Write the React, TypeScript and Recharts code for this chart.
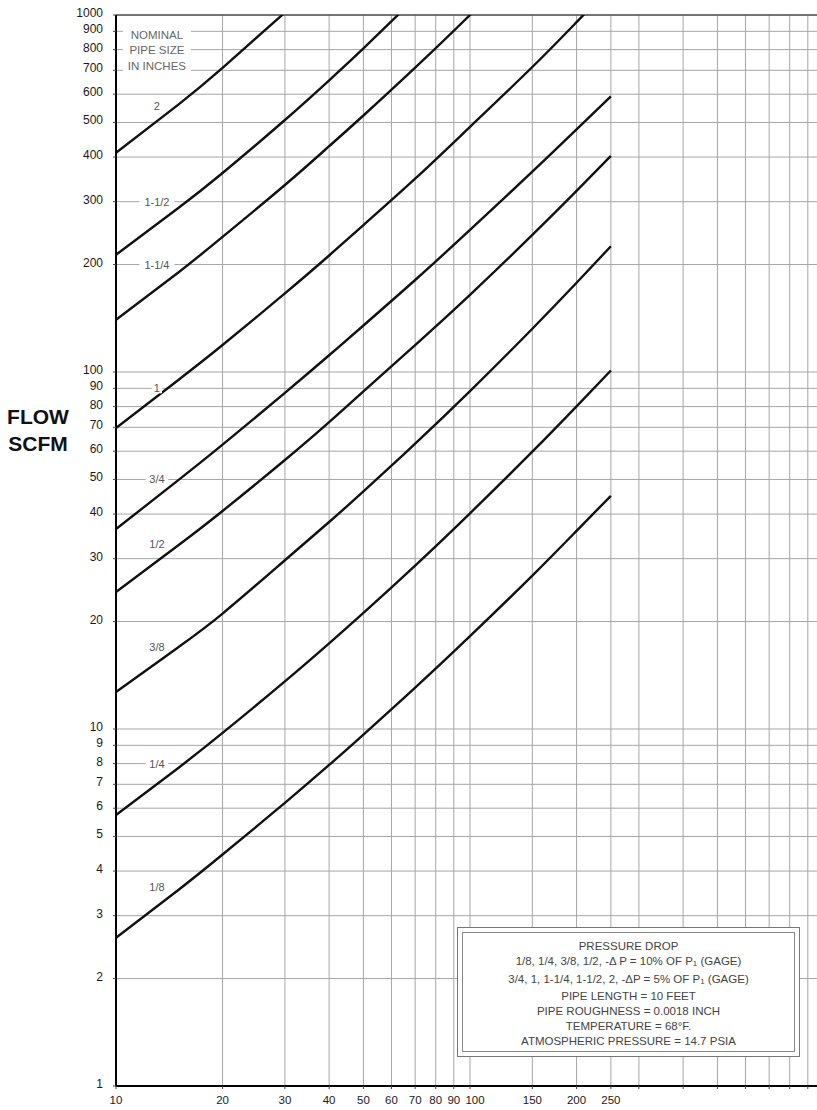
import React from "react";
import {
  LineChart,
  Line,
  XAxis,
  YAxis,
  CartesianGrid,
  ReferenceLine,
  ReferenceDot,
} from "recharts";

const FONT = "'Liberation Sans', Arial, Helvetica, sans-serif";

// pressure (psig) at which each flow value was read
const pressure = [10, 15, 20, 30, 40, 50, 70, 100, 150, 200, 250];

// flow in SCFM per nominal pipe size
const pipe1_8 = [2.6, 3.54, 4.45, 6.21, 7.93, 9.65, 13.06, 18.2, 26.9, 35.9, 45];
const pipe1_4 = [5.74, 7.78, 9.75, 13.6, 17.38, 21.15, 28.7, 40.2, 59.8, 80.1, 101];
const pipe3_8 = [12.7, 16.95, 21.05, 29.7, 38, 46.3, 63, 88.4, 132.2, 177.8, 225];
const pipe1_2 = [24.2, 32.7, 40.8, 56.7, 72.4, 88.3, 119, 164.5, 242, 321.5, 403];
const pipe3_4 = [36.3, 49.8, 62.6, 87.4, 111.4, 135, 181, 250, 364, 478, 592];
const pipe1 = [69.7, 95, 119, 166, 212, 258, 348, 486, 715, 955, 1200];
const pipe1_1_4 = [140, 190, 239, 334, 429, 523, 712, 1000, 1500];
const pipe1_1_2 = [213, 288, 361, 508, 656, 806, 1114];
const pipe2 = [411, 561, 711, 1016];

const sizeNames = ["1/8", "1/4", "3/8", "1/2", "3/4", "1", "1-1/4", "1-1/2", "2"];
const sizeFlows = [pipe1_8, pipe1_4, pipe3_8, pipe1_2, pipe3_4, pipe1, pipe1_1_4, pipe1_1_2, pipe2];
// where the size tag sits (flow value) next to each curve
const tagFlow = [3.6, 8, 17, 33, 50, 90, 200, 300, 555];
const tagPressure = 13.05;

const xTicks = [10, 20, 30, 40, 50, 60, 70, 80, 90, 100, 150, 200, 250, 300, 400, 500, 600, 700, 800, 900, 1000];
const xLabelMax = 250;
const yTicks = [
  1, 2, 3, 4, 5, 6, 7, 8, 9, 10, 20, 30, 40, 50, 60, 70, 80, 90, 100,
  200, 300, 400, 500, 600, 700, 800, 900, 1000,
];

const headerLines = ["NOMINAL", "PIPE SIZE", "IN INCHES"];

const series = sizeFlows.map((flows, i) => ({
  name: sizeNames[i],
  points: flows.map((f, j) => ({ x: pressure[j], y: f })),
}));

const YTick = ({ x, y, payload }: any) => (
  <text x={x} y={y} dy={2} textAnchor="end" fontSize={12} fill="#1a1a1a" fontFamily={FONT}>
    {payload.value}
  </text>
);

const XTick = ({ x, y, payload }: any) =>
  payload.value > xLabelMax ? null : (
    <text
      x={x}
      y={y}
      dx={payload.value === 100 ? 5 : 0}
      dy="0.71em"
      textAnchor="middle"
      fontSize={11.5}
      fill="#1a1a1a"
      fontFamily={FONT}
    >
      {payload.value}
    </text>
  );

const SizeTag = ({ cx, cy, text }: any) => {
  const w = text.length * 6.2 + 4;
  return (
    <g>
      <rect x={cx - w / 2} y={cy - 5} width={w} height={10} fill="#fff" />
      <text x={cx} y={cy} dy={4} textAnchor="middle" fontSize={11} fill="#555" fontFamily={FONT}>
        {text}
      </text>
    </g>
  );
};

const Header = ({ cx, cy }: any) => (
  <g>
    {headerLines.map((t, i) => (
      <g key={t}>
        <rect x={cx - 34} y={cy - 20 + i * 15.5} width={68} height={11} fill="#fff" />
        <text x={cx} y={cy - 15 + i * 15.5} dy={4} textAnchor="middle" fontSize={11.5} fill="#666" fontFamily={FONT}>
          {t}
        </text>
      </g>
    ))}
  </g>
);

const P1 = () => (
  <>
    P<span style={{ fontSize: 8, verticalAlign: "-1px" }}>1</span>
  </>
);

export default function App() {
  return (
    <div
      style={{
        position: "absolute",
        left: 0,
        top: 0,
        width: 817,
        height: 1110,
        overflow: "hidden",
        background: "#fff",
      }}
    >
      <LineChart width={850} height={1110} margin={{ top: 15, right: 26, left: 60, bottom: 0 }}>
        <CartesianGrid stroke="#a6a6a6" strokeWidth={1} />
        <XAxis
          type="number"
          dataKey="x"
          scale="log"
          domain={[10, 1000]}
          allowDataOverflow
          ticks={xTicks}
          interval={0}
          height={24}
          tickSize={3}
          tickMargin={7}
          tick={<XTick />}
          axisLine={{ stroke: "#000", strokeWidth: 2 }}
          tickLine={{ stroke: "#444" }}
        />
        <YAxis
          type="number"
          dataKey="y"
          scale="log"
          domain={[1, 1000]}
          allowDataOverflow
          ticks={yTicks}
          interval={0}
          width={56}
          tickSize={3}
          tickMargin={10}
          tick={<YTick />}
          axisLine={{ stroke: "#000", strokeWidth: 2 }}
          tickLine={{ stroke: "#444" }}
        />
        <ReferenceLine y={1000} stroke="#555" strokeWidth={1.5} />
        <ReferenceDot x={tagPressure} y={800} r={0} shape={(p: any) => <Header cx={p.cx} cy={p.cy} />} />
        {series.map((s, i) => (
          <ReferenceDot
            key={"tag" + s.name}
            x={tagPressure}
            y={tagFlow[i]}
            r={0}
            shape={(p: any) => <SizeTag cx={p.cx} cy={p.cy} text={s.name} />}
          />
        ))}
        {series.map((s) => (
          <Line
            key={s.name}
            data={s.points}
            dataKey="y"
            name={s.name}
            type="natural"
            stroke="#111"
            strokeWidth={2.4}
            dot={false}
            isAnimationActive={false}
          />
        ))}
      </LineChart>

      <div
        style={{
          position: "absolute",
          left: 7,
          top: 403,
          width: 62,
          textAlign: "center",
          fontFamily: FONT,
          fontWeight: "bold",
          fontSize: 21,
          lineHeight: "27px",
          color: "#111",
        }}
      >
        FLOW
        <br />
        SCFM
      </div>

      <div
        style={{
          position: "absolute",
          left: 457,
          top: 927,
          width: 343,
          height: 130,
          boxSizing: "border-box",
          border: "1.5px solid #777",
          padding: 4,
          background: "#fff",
        }}
      >
        <div
          style={{
            boxSizing: "border-box",
            width: "100%",
            height: "100%",
            border: "1px solid #888",
            paddingTop: 6,
            textAlign: "center",
            fontFamily: FONT,
            fontSize: 11.5,
            lineHeight: "14.8px",
            color: "#444",
          }}
        >
          <div>PRESSURE DROP</div>
          <div>
            1/8, 1/4, 3/8, 1/2, -Δ P = 10% OF <P1 /> (GAGE)
          </div>
          <div>
            3/4, 1, 1-1/4, 1-1/2, 2, -ΔP = 5% OF <P1 /> (GAGE)
          </div>
          <div>PIPE LENGTH = 10 FEET</div>
          <div>PIPE ROUGHNESS = 0.0018 INCH</div>
          <div>TEMPERATURE = 68°F.</div>
          <div>ATMOSPHERIC PRESSURE = 14.7 PSIA</div>
        </div>
      </div>
    </div>
  );
}
